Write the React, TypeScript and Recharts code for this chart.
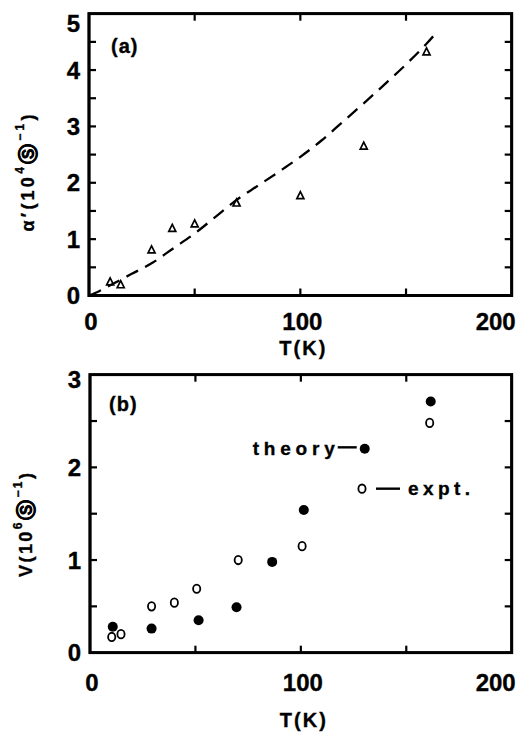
import React from 'react';
import { ComposedChart, Line, Scatter, XAxis, YAxis, ReferenceDot, ReferenceArea } from 'recharts';

const FONT = '"Liberation Sans", Arial, Helvetica, sans-serif';

// ticks
const xTicks = [0, 50, 100, 150, 200];
const yTicksA = [0, 0.5, 1, 1.5, 2, 2.5, 3, 3.5, 4, 4.5, 5];
const yTicksB = [0, 0.5, 1, 1.5, 2, 2.5, 3];

// panel (a): theory curve (dashed)
const curveT = [0, 5, 10, 20, 30, 40, 50, 60, 70, 80, 90, 100, 110, 120, 130, 140, 150, 160, 165];
const curveAlpha = [0, 0.08, 0.18, 0.38, 0.58, 0.84, 1.1, 1.4, 1.7, 1.95, 2.2, 2.46, 2.75, 3.08, 3.41, 3.75, 4.1, 4.48, 4.69];

// panel (a): experimental triangles
const exptAT = [10, 15, 29.6, 39.4, 50, 69.8, 100, 130, 159.7];
const exptAlpha = [0.25, 0.2, 0.82, 1.2, 1.28, 1.65, 1.78, 2.66, 4.33];

// panel (b): theory (filled) and expt (open)
const theoryT = [10.8, 29.2, 51.5, 69.5, 86.4, 101.4, 130.3, 161.6];
const theoryV = [0.28, 0.26, 0.35, 0.49, 0.98, 1.54, 2.2, 2.71];
const exptBT = [10.3, 14.7, 29.2, 40, 50.6, 70.3, 100.6, 129, 161.1];
const exptV = [0.17, 0.2, 0.5, 0.54, 0.69, 1.0, 1.15, 1.77, 2.48];

const zip = (xs: number[], ys: number[]) => xs.map((x, i) => ({ x, y: ys[i] }));
const curveData = zip(curveT, curveAlpha);
const triData = zip(exptAT, exptAlpha);
const theoryData = zip(theoryT, theoryV);
const exptData = zip(exptBT, exptV);

const TL = 7;
const TW = 2.2;
const FRAME_W = 2.8;

const txt = {
  fontFamily: FONT,
  fontWeight: 'bold' as const,
  fill: '#000',
  stroke: '#000',
  strokeWidth: 0.35,
};

const makeLeftTick = (shiftTop: number, topVal: number) => (props: any) => {
  const { x, y, payload } = props;
  const v = payload.value;
  if (!Number.isInteger(v)) return <g />;
  const dy = v === topVal ? shiftTop : 0;
  return (
    <text x={x - 9} y={y + dy} textAnchor="end" dominantBaseline="central" fontSize={24} {...txt}>
      {v}
    </text>
  );
};

const makeBottomTick = (labelDy: number) => (props: any) => {
  const { x, y, payload } = props;
  const v = payload.value;
  if (v % 100 !== 0) return <g />;
  const dx = v === 200 ? -16 : 2;
  return (
    <text x={x + dx} y={y + labelDy} textAnchor="middle" dominantBaseline="central" fontSize={24} {...txt}>
      {v}
    </text>
  );
};

const XTitle = (dy: number) => (props: any) => {
  const vb = props.viewBox;
  return (
    <text
      x={vb.x + vb.width / 2 + 2}
      y={vb.y + dy}
      textAnchor="middle"
      dominantBaseline="central"
      fontSize={20}
      textLength={46}
      lengthAdjust="spacing"
      {...txt}
    >
      T(K)
    </text>
  );
};

const YTitle = (prefix: string, exp: string, cx: number, cy: number, len: number) => () => (
  <text
    x={cx}
    y={cy}
    transform={`rotate(-90, ${cx}, ${cy})`}
    textAnchor="middle"
    dominantBaseline="central"
    fontSize={18}
    textLength={len}
    lengthAdjust="spacing"
    {...txt}
  >
    {prefix}(10
    <tspan dy={-8} fontSize={12}>{exp}</tspan>
    <tspan dy={8} fontFamily="DejaVu Sans" fontSize={20} strokeWidth={0.6}>Ⓢ</tspan>
    <tspan dy={-8} fontSize={12}>−1</tspan>
    <tspan dy={8}>)</tspan>
  </text>
);

const PanelLabel = (text: string, dx: number, dy: number) => (props: any) => {
  const vb = props.viewBox;
  return (
    <text x={vb.x + dx} y={vb.y + dy} textAnchor="start" dominantBaseline="central" fontSize={20} letterSpacing={1} {...txt}>
      {text}
    </text>
  );
};

const TriShape = (props: any) => {
  const { cx, cy } = props;
  if (cx == null || cy == null) return <g />;
  const h = 7;
  const w = 7;
  return (
    <polygon
      points={`${cx},${cy - h / 2} ${cx - w / 2},${cy + h / 2} ${cx + w / 2},${cy + h / 2}`}
      fill="none"
      stroke="#000"
      strokeWidth={1.7}
    />
  );
};

const FilledDot = (props: any) => {
  const { cx, cy } = props;
  if (cx == null || cy == null) return <g />;
  return <circle cx={cx} cy={cy} r={5} fill="#000" />;
};

const OpenDot = (props: any) => {
  const { cx, cy } = props;
  if (cx == null || cy == null) return <g />;
  return <ellipse cx={cx} cy={cy} rx={3.6} ry={4.2} fill="#fff" stroke="#000" strokeWidth={1.8} />;
};

const TheoryLabel = (props: any) => {
  const vb = props.viewBox;
  const cx = vb.x + vb.width / 2;
  const cy = vb.y + vb.height / 2;
  return (
    <g>
      <line x1={cx - 27} y1={cy - 1.5} x2={cx - 8} y2={cy - 1.5} stroke="#000" strokeWidth={2.4} />
      <text x={cx - 112} y={cy + 6} textAnchor="start" fontSize={19} textLength={82} lengthAdjust="spacing" {...txt}>
        theory
      </text>
    </g>
  );
};

const ExptLabel = (props: any) => {
  const vb = props.viewBox;
  const cx = vb.x + vb.width / 2;
  const cy = vb.y + vb.height / 2;
  return (
    <g>
      <line x1={cx + 14} y1={cy} x2={cx + 38} y2={cy} stroke="#000" strokeWidth={2.4} />
      <text x={cx + 46} y={cy + 6.6} textAnchor="start" fontSize={19} textLength={62} lengthAdjust="spacing" {...txt}>
        expt.
      </text>
    </g>
  );
};

function FrameOverlay(props: {
  w: number; h: number; left: number; top: number; pw: number; ph: number;
  xMax: number; yMax: number; yTicks: number[]; color: string;
}) {
  const { w, h, left, top, pw, ph, xMax, yMax, yTicks, color } = props;
  const sx = (v: number) => left + (v / xMax) * pw;
  const sy = (v: number) => top + ph - (v / yMax) * ph;
  const bottom = top + ph;
  const right = left + pw;
  return (
    <svg width={w} height={h} style={{ position: 'absolute', left: 0, top: 0, pointerEvents: 'none', zIndex: 5 }}>
      <rect x={left} y={top} width={pw} height={ph} fill="none" stroke={color} strokeWidth={FRAME_W} />
      {xTicks.slice(1, -1).map((t) => (
        <g key={`x${t}`}>
          <line x1={sx(t)} y1={bottom} x2={sx(t)} y2={bottom - TL} stroke={color} strokeWidth={TW} />
          <line x1={sx(t)} y1={top} x2={sx(t)} y2={top + TL} stroke={color} strokeWidth={TW} />
        </g>
      ))}
      {yTicks.slice(1, -1).map((t) => (
        <g key={`y${t}`}>
          <line x1={left} y1={sy(t)} x2={left + TL} y2={sy(t)} stroke={color} strokeWidth={TW} />
          <line x1={right} y1={sy(t)} x2={right - TL} y2={sy(t)} stroke={color} strokeWidth={TW} />
        </g>
      ))}
    </svg>
  );
}

const A = { w: 523, h: 360, top: 13.7, right: 11.3, left: 29, bottom: 14.5, yw: 60, xh: 50 };
const B = { w: 523, h: 373, top: 14.7, right: 11.3, left: 30, bottom: 20.3, yw: 60, xh: 60 };

export default function App() {
  return (
    <div style={{ position: 'absolute', left: 0, top: 0, width: 523, height: 733, background: '#fff' }}>
      <div style={{ position: 'absolute', left: 0, top: 0, width: A.w, height: A.h }}>
        <ComposedChart width={A.w} height={A.h} margin={{ top: A.top, right: A.right, left: A.left, bottom: A.bottom }}>
          <XAxis type="number" dataKey="x" domain={[0, 200]} ticks={xTicks} interval={0} height={A.xh} axisLine={false} tickLine={false} tickSize={0} tickMargin={0} tick={makeBottomTick(26)} label={XTitle(52)} />
          <YAxis type="number" domain={[0, 5]} ticks={yTicksA} interval={0} width={A.yw} axisLine={false} tickLine={false} tickSize={0} tickMargin={0} tick={makeLeftTick(10, 5)} label={YTitle('α′', '4', 28, 173, 117)} />
          <ReferenceArea x1={0} x2={200} y1={0} y2={5} fill="#fff" fillOpacity={0} stroke="#000" strokeWidth={FRAME_W} ifOverflow="visible" />
          <Line data={curveData} dataKey="y" type="monotone" stroke="#000" strokeWidth={2.3} strokeDasharray="13 8" dot={false} activeDot={false} isAnimationActive={false} />
          <Scatter data={triData} dataKey="y" shape={TriShape} isAnimationActive={false} />
          <ReferenceDot x={0} y={5} r={1} fill="none" stroke="none" label={PanelLabel('(a)', 23, 33)} />
        </ComposedChart>
        <FrameOverlay w={A.w} h={A.h} left={A.left + A.yw} top={A.top} pw={A.w - A.left - A.yw - A.right} ph={A.h - A.top - A.bottom - A.xh} xMax={200} yMax={5} yTicks={yTicksA} color="#000" />
      </div>

      <div style={{ position: 'absolute', left: 0, top: 360, width: B.w, height: B.h }}>
        <ComposedChart width={B.w} height={B.h} margin={{ top: B.top, right: B.right, left: B.left, bottom: B.bottom }}>
          <XAxis type="number" dataKey="x" domain={[0, 200]} ticks={xTicks} interval={0} height={B.xh} axisLine={false} tickLine={false} tickSize={0} tickMargin={0} tick={makeBottomTick(30)} label={XTitle(67)} />
          <YAxis type="number" domain={[0, 3]} ticks={yTicksB} interval={0} width={B.yw} axisLine={false} tickLine={false} tickSize={0} tickMargin={0} tick={makeLeftTick(5, 3)} label={YTitle('V', '6', 26, 165, 104)} />
          <ReferenceArea x1={0} x2={200} y1={0} y2={3} fill="#fff" fillOpacity={0} stroke="#000" strokeWidth={FRAME_W} ifOverflow="visible" />
          <Scatter data={exptData} dataKey="y" shape={OpenDot} isAnimationActive={false} />
          <Scatter data={theoryData} dataKey="y" shape={FilledDot} isAnimationActive={false} />
          <ReferenceDot x={theoryT[6]} y={theoryV[6]} r={1} fill="none" stroke="none" label={TheoryLabel} />
          <ReferenceDot x={exptBT[7]} y={exptV[7]} r={1} fill="none" stroke="none" label={ExptLabel} />
          <ReferenceDot x={0} y={3} r={1} fill="none" stroke="none" label={PanelLabel('(b)', 20, 30)} />
        </ComposedChart>
        <FrameOverlay w={B.w} h={B.h} left={B.left + B.yw} top={B.top} pw={B.w - B.left - B.yw - B.right} ph={B.h - B.top - B.bottom - B.xh} xMax={200} yMax={3} yTicks={yTicksB} color="#000" />
      </div>
    </div>
  );
}
